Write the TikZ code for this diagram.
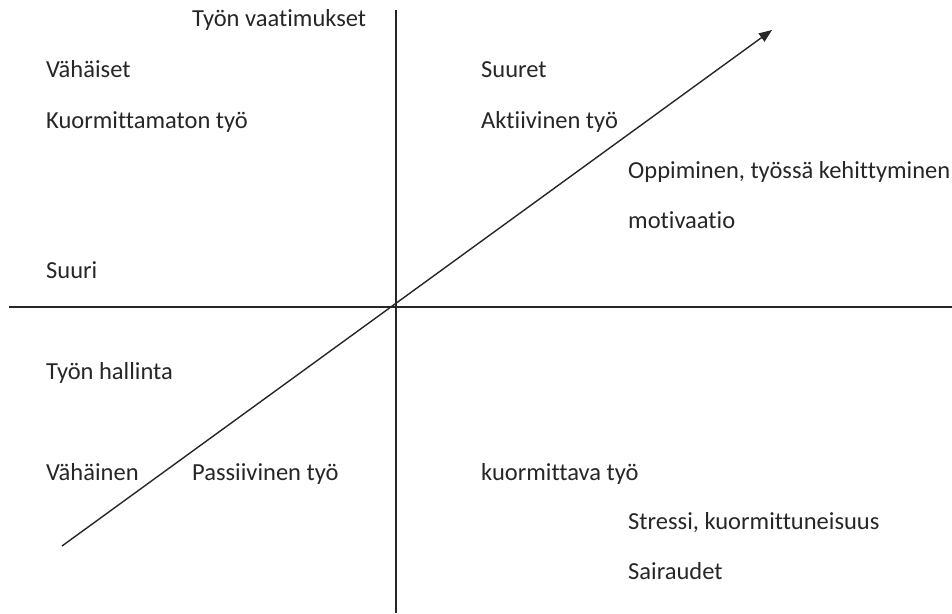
\documentclass[tikz,border=0pt]{standalone}
\usepackage{fontspec}
\setmainfont[Ligatures=NoCommon]{Carlito}
\usetikzlibrary{arrows.meta}
\begin{document}
\begin{tikzpicture}[x=1pt,y=-1pt,
  lbl/.style={anchor=base west,inner sep=0pt,font=\fontsize{24.5}{29}\selectfont,text=black!85},
  axis/.style={line width=1.4pt,draw=black!85},
  trend/.style={line width=1.4pt,draw=black!85,-{Triangle[length=13pt,width=10pt]}}]
\useasboundingbox (0,0) rectangle (952,613);
% axes
\coordinate (vtop) at (396,10);
\coordinate (vbot) at (396,613);
\coordinate (hleft) at (9,307);
\coordinate (hright) at (952,307);
\draw[axis] (vtop) -- (vbot);
\draw[axis] (hleft) -- (hright);
% diagonal arrow
\coordinate (dstart) at (62,546);
\coordinate (dend) at (772,30);
\draw[trend] (dstart) -- (dend);
% labels
\node[lbl] (vaat) at (192,27) {Työn vaatimukset};
\node[lbl] (vahaiset) at (46,77) {Vähäiset};
\node[lbl] (kuormittamaton) at (46,128) {Kuormittamaton työ};
\node[lbl] (suuri) at (46,278) {Suuri};
\node[lbl] (suuret) at (481,77) {Suuret};
\node[lbl] (aktiivinen) at (481,128) {Aktiivinen työ};
\node[lbl] (oppiminen) at (628,178) {Oppiminen, työssä kehittyminen};
\node[lbl] (motivaatio) at (628,228) {motivaatio};
\node[lbl] (hallinta) at (46,379) {Työn hallinta};
\node[lbl] (vahainen) at (46,480) {Vähäinen};
\node[lbl] (passiivinen) at (192,480) {Passiivinen työ};
\node[lbl] (kuormittava) at (481,480) {kuormittava työ};
\node[lbl] (stressi) at (628,529) {Stressi, kuormittuneisuus};
\node[lbl] (sairaudet) at (628,579) {Sairaudet};
\end{tikzpicture}
\end{document}
